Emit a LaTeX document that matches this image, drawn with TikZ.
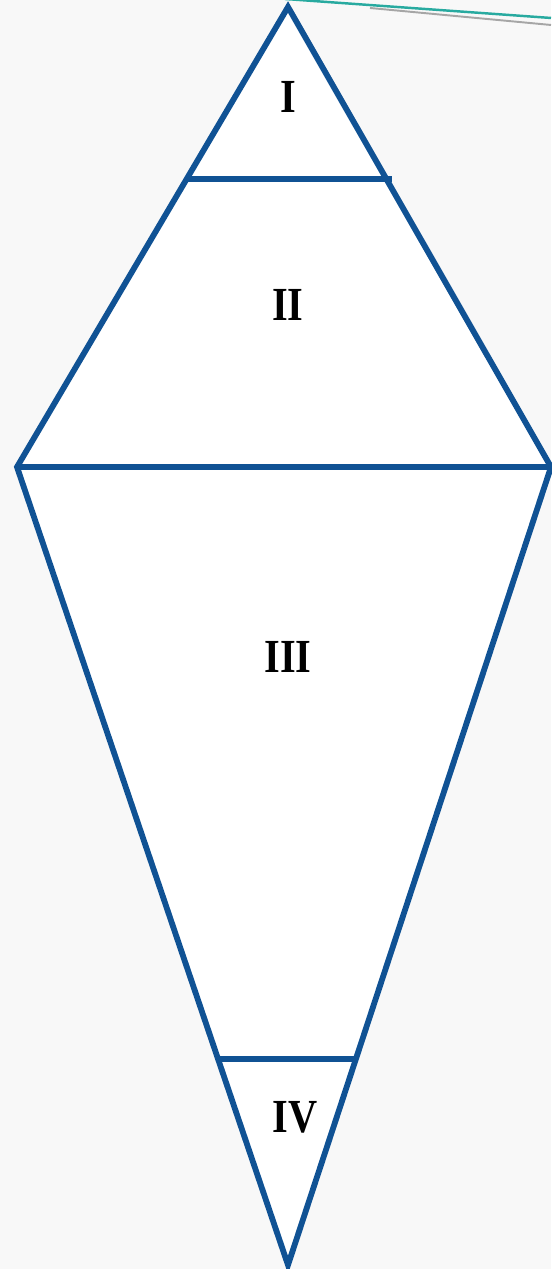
\documentclass[tikz,border=0pt]{standalone}
\usepackage{tikz}
\usepackage{xcolor}
\usepackage{fontspec}
\newfontfamily\zonefont{Liberation Serif}
\definecolor{edgeblue}{RGB}{16,82,148}
\definecolor{paper}{RGB}{248,248,248}
\definecolor{tealline}{RGB}{40,170,160}
\tikzset{
  part/.style={draw=edgeblue, line width=3.3pt, line join=miter},
  zone/.style={font=\zonefont\fontsize{27}{30}\selectfont\bfseries, xscale=0.85}
}

\begin{document}
\begin{tikzpicture}
\useasboundingbox (0,0) rectangle (11.02,25.38);
\fill[paper] (0,0) rectangle (11.02,25.38);

% corner points of the kite
\coordinate (top) at (5.76,25.24);
\coordinate (left) at (0.34,16.04);
\coordinate (right) at (11.02,16.04);
\coordinate (bottom) at (5.76,0.08);
\coordinate (cutA) at (3.76,21.80);
\coordinate (cutB) at (7.84,21.80);
\coordinate (cutC) at (4.34,4.20);
\coordinate (cutD) at (7.14,4.20);

% decoration lines at the top
\coordinate (decoA) at (5.70,25.40);
\coordinate (decoB) at (11.02,25.02);
\coordinate (decoC) at (7.40,25.22);
\coordinate (decoD) at (11.02,24.88);
\draw[tealline, line width=1.4pt] (decoA) -- (decoB);
\draw[gray!70, line width=1.1pt] (decoC) -- (decoD);

% outline and cuts
\fill[white] (top) -- (right) -- (bottom) -- (left) -- cycle;
\draw[part] (top) -- (right) -- (bottom) -- (left) -- cycle;
\draw[part] (cutA) -- (cutB);
\draw[part] (left) -- (right);
\draw[part] (cutC) -- (cutD);

% zone labels
\node[zone] (one) at (5.76,23.44) {I};
\node[zone] (two) at (5.76,19.28) {II};
\node[zone] (three) at (5.76,12.24) {III};
\node[zone] (four) at (5.90,3.04) {IV};
\end{tikzpicture}
\end{document}
